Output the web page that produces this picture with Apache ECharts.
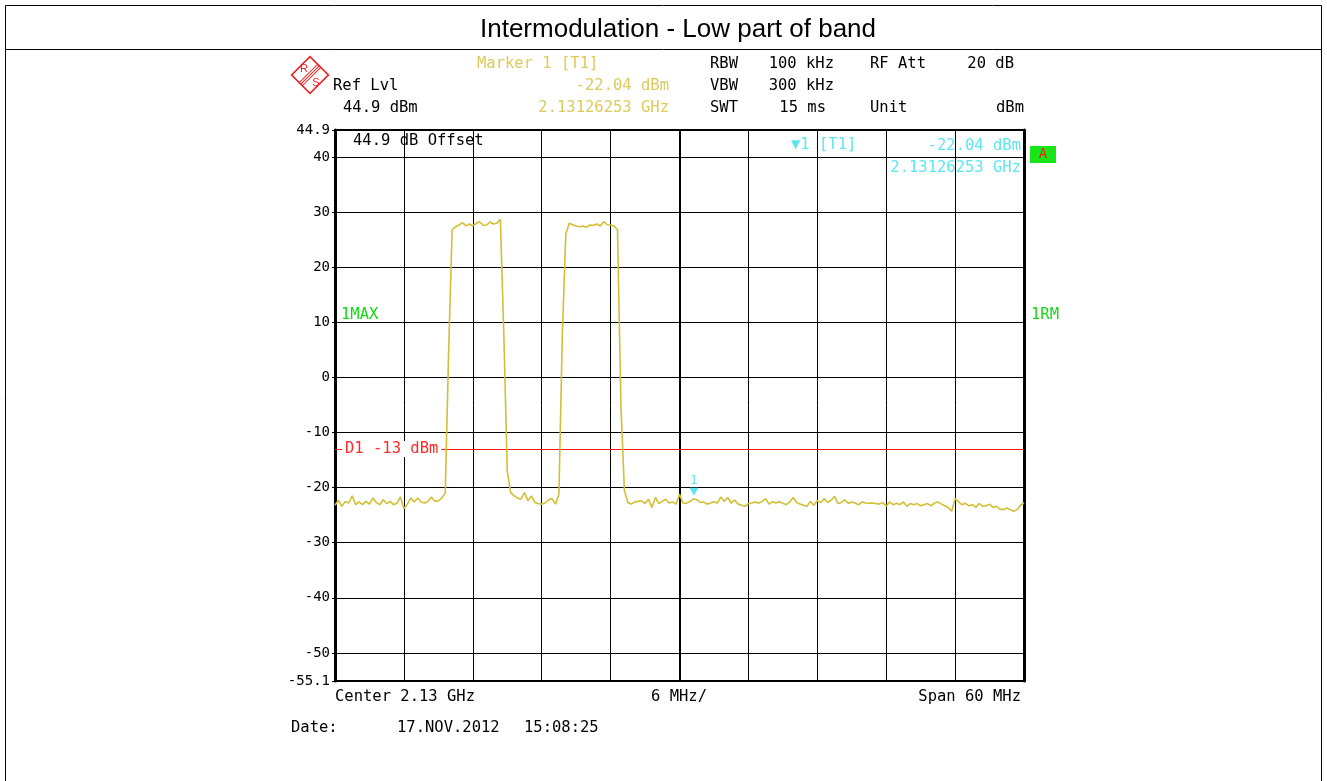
<!DOCTYPE html>
<html>
<head>
<meta charset="utf-8">
<script src="https://cdn.jsdelivr.net/npm/echarts@6/dist/echarts.min.js"></script>
<style>
html,body{margin:0;padding:0;background:#fff;}
#chart{width:1327px;height:781px;}
</style>
</head>
<body>
<div id="chart"></div>
<script>
// ---- data ----
const startFreqMHz = 2100;
const stopFreqMHz = 2160;
const freqStepMHz = 0.3;
const traceLevels = [
  -23.2, -22.3, -23.4, -22.5, -22.8, -21.5, -23.1, -22.6, -23.1, -22.5,
  -23.0, -21.9, -22.7, -23.1, -22.2, -22.9, -22.5, -23.1, -22.8, -21.7,
  -23.8, -23.0, -21.9, -22.6, -21.9, -22.6, -22.8, -22.5, -21.7, -22.5,
  -22.4, -21.9,
  -21.0, 5.0, 26.8,
  27.35, 27.66, 28.08, 27.5, 27.84, 27.48, 27.97, 28.26, 27.6, 27.66, 28.2, 27.84, 27.97, 28.7,
  8.0, -17.0, -20.9,
  -21.5, -21.9, -22.1, -20.9, -22.4, -21.5, -22.7, -22.9, -23.0, -22.8, -22.2, -22.0, -23.0, -21.2,
  8.0, 26.0,
  27.97, 27.7, 27.48, 27.35, 27.48, 27.24, 27.66, 27.6, 27.84, 27.48, 28.26, 27.7, 27.66, 27.48, 26.8,
  -5.0, -20.5,
  -22.7, -23.0, -22.6, -22.5, -22.4, -22.9, -22.1, -23.6, -21.8, -22.9, -22.5, -22.1, -22.8, -22.6, -23.0,
  -21.2, -22.8, -22.85, -22.55, -22.04,
  -22.2, -22.7, -22.6, -23.0, -22.8,
  -22.55, -22.8, -21.7, -22.5, -21.8,
  -22.8, -22.25, -23.0, -23.2, -23.4,
  -22.9, -22.8, -22.6, -22.8, -22.5,
  -22.0, -23.0, -22.55, -22.8, -22.55,
  -22.85, -23.1, -22.6, -21.8, -22.7,
  -23.0, -23.2, -23.4, -22.5, -23.2,
  -22.4, -22.7, -22.0, -22.7, -22.3,
  -21.6, -22.9, -22.7, -22.2, -22.9,
  -22.6, -22.8, -23.1, -22.6, -22.8,
  -22.85, -22.8, -22.9, -23.0, -22.7,
  -23.4, -22.6, -23.1, -22.85, -23.1,
  -22.6, -23.4, -22.9, -23.1, -22.9,
  -23.3, -23.1, -22.9, -23.3, -22.8,
  -22.6, -23.0, -23.3, -23.6, -24.3,
  -22.0, -22.6, -23.1, -22.85, -23.3,
  -23.1, -23.6, -22.9, -23.4, -23.3,
  -23.0, -23.6, -23.4, -23.9, -24.0,
  -23.7, -24.0, -24.3, -24.0, -23.2,
  -22.8
];
const refLevel = 44.9;
const bottomLevel = -55.1;
const yLabelValues = [-55.1, -50, -40, -30, -20, -10, 0, 10, 20, 30, 40, 44.9];
const displayLine = -13;
const centerFreqMHz = 2130;
const markerFreqMHz = 2131.26;
const markerLevel = -22.04;

const sweepFreqs = traceLevels.map((_, i) => +(startFreqMHz + i * freqStepMHz).toFixed(2));
const traceData = sweepFreqs.map((f, i) => [f, traceLevels[i]]);

// ---- styles ----
const MONO = '"DejaVu Sans Mono", "Liberation Mono", monospace';
const YEL = '#dccb5a';
const TRACE = '#d2bf35';
const CYAN = '#5ee6f0';
const GREEN = '#18d818';
const FS = 15.5;

function txt(text, x, y, opts) {
  opts = opts || {};
  return {
    type: 'text', silent: true, z: 100,
    style: {
      text: text, x: x, y: y,
      fill: opts.color || '#000',
      font: (opts.size || FS) + 'px ' + (opts.family || MONO),
      textAlign: opts.align || 'left', align: opts.align || 'left',
      textVerticalAlign: 'middle', verticalAlign: 'middle'
    }
  };
}

const chart = echarts.init(document.getElementById('chart'), null, {renderer: 'canvas'});

const graphics = [
  // outer frame & title
  {type: 'rect', silent: true, shape: {x: 5.5, y: 5.5, width: 1316, height: 820}, style: {fill: 'none', stroke: '#000', lineWidth: 1}},
  {type: 'line', silent: true, shape: {x1: 5, y1: 49.5, x2: 1322, y2: 49.5}, style: {stroke: '#000', lineWidth: 1}},
  txt('Intermodulation - Low part of band', 678, 30, {size: 26, family: '"Liberation Sans", Arial, sans-serif', align: 'center'}),
  // R&S logo
  {type: 'group', x: 310, y: 75, rotation: Math.PI / 4, silent: true, children: [
    {type: 'rect', shape: {x: -13, y: -13, width: 26, height: 26}, style: {fill: 'none', stroke: '#ee2222', lineWidth: 1.6}},
    {type: 'line', shape: {x1: -13, y1: -2.2, x2: 13, y2: -2.2}, style: {stroke: '#ee2222', lineWidth: 1}},
    {type: 'line', shape: {x1: -13, y1: 0, x2: 13, y2: 0}, style: {stroke: '#ee2222', lineWidth: 1}},
    {type: 'line', shape: {x1: -13, y1: 2.2, x2: 13, y2: 2.2}, style: {stroke: '#ee2222', lineWidth: 1}}
  ]},
  txt('R', 304, 69, {color: '#ee2222', size: 11, family: '"Liberation Sans", sans-serif', align: 'center'}),
  txt('S', 316, 83, {color: '#ee2222', size: 11, family: '"Liberation Sans", sans-serif', align: 'center'}),
  // header info
  txt('Marker 1 [T1]', 477, 64, {color: YEL}),
  txt('Ref Lvl', 333, 86),
  txt('-22.04 dBm', 669, 86, {color: YEL, align: 'right'}),
  txt('44.9 dBm', 343, 108),
  txt('2.13126253 GHz', 669, 108, {color: YEL, align: 'right'}),
  txt('RBW', 710, 64), txt('100 kHz', 834, 64, {align: 'right'}),
  txt('RF Att', 870, 64), txt('20 dB', 1014, 64, {align: 'right'}),
  txt('VBW', 710, 86), txt('300 kHz', 834, 86, {align: 'right'}),
  txt('SWT', 710, 108), txt('15 ms', 826, 108, {align: 'right'}),
  txt('Unit', 870, 108), txt('dBm', 1024, 108, {align: 'right'}),
  // inside plot
  txt('44.9 dB Offset', 353, 141),
  txt('\u25BC1 [T1]', 791, 145, {color: CYAN}),
  txt('-22.04 dBm', 1021, 146, {color: CYAN, align: 'right'}),
  txt('2.13126253 GHz', 1021, 168, {color: CYAN, align: 'right'}),
  {type: 'rect', silent: true, z: 100, shape: {x: 1030, y: 146, width: 26, height: 17}, style: {fill: '#19e619'}},
  txt('A', 1043, 154.5, {color: '#ee2020', align: 'center', size: 14}),
  txt('1MAX', 341, 315, {color: GREEN}),
  txt('1RM', 1031, 315, {color: GREEN}),
  // footer
  txt('Center 2.13 GHz', 335, 697),
  txt('6 MHz/', 651, 697),
  txt('Span 60 MHz', 1021, 697, {align: 'right'}),
  txt('Date:', 291, 728),
  txt('17.NOV.2012', 397, 728),
  txt('15:08:25', 524, 728)
];

const option = {
  backgroundColor: '#fff',
  animation: false,
  grid: {left: 335, right: 303, top: 130, bottom: 100, show: true, borderColor: '#000', borderWidth: 2, backgroundColor: 'transparent'},
  xAxis: {
    type: 'value', min: startFreqMHz, max: stopFreqMHz, interval: 6,
    axisLine: {show: true, onZero: false, lineStyle: {color: '#000', width: 2}},
    axisTick: {show: false}, axisLabel: {show: false},
    splitLine: {show: true, lineStyle: {color: '#000', width: 1}}
  },
  yAxis: [{
    type: 'value', min: bottomLevel, max: refLevel, position: 'left',
    axisLine: {show: true, onZero: false, lineStyle: {color: '#000', width: 3}},
    axisTick: {show: true, length: 3, customValues: yLabelValues, lineStyle: {color: '#000', width: 1}},
    axisLabel: {show: true, customValues: yLabelValues, margin: 5, color: '#000', fontFamily: MONO, fontSize: 14,
      formatter: function (v) { return String(Math.round(v * 10) / 10); }},
    splitLine: {show: true, lineStyle: {color: '#000', width: 1}}
  }, {
    type: 'value', min: bottomLevel, max: refLevel, position: 'right',
    axisLine: {show: true, onZero: false, lineStyle: {color: '#000', width: 3}},
    axisTick: {show: false}, axisLabel: {show: false}, splitLine: {show: false}
  }],
  graphic: graphics,
  series: [{
    type: 'line', xAxisIndex: 0, yAxisIndex: 0,
    data: traceData, showSymbol: false, symbol: 'none',
    lineStyle: {color: TRACE, width: 1.6}, z: 5,
    markLine: {
      silent: true, symbol: 'none', label: {show: false}, z: 4,
      data: [
        {xAxis: centerFreqMHz, lineStyle: {color: '#000', width: 2, type: 'solid'}},
        {yAxis: displayLine, lineStyle: {color: '#ff1a1a', width: 1.2, type: 'solid'}}
      ]
    },
    markPoint: {
      silent: true,
      data: [
        {coord: [markerFreqMHz, markerLevel], symbol: 'triangle', symbolRotate: 180, symbolSize: [9, 8], symbolOffset: [0, -7],
          itemStyle: {color: CYAN},
          label: {show: true, position: 'top', distance: 1, formatter: '1', color: CYAN, fontFamily: MONO, fontSize: 12}},
        {coord: [startFreqMHz, displayLine], symbol: 'circle', symbolSize: 0.01, itemStyle: {color: 'transparent'},
          label: {show: true, position: 'right', distance: 7, formatter: 'D1 -13 dBm', color: '#ff2a2a', backgroundColor: '#fff',
            padding: [0, 3, 0, 3], fontFamily: MONO, fontSize: FS}}
      ]
    }
  }]
};
chart.setOption(option);
</script>
</body>
</html>
